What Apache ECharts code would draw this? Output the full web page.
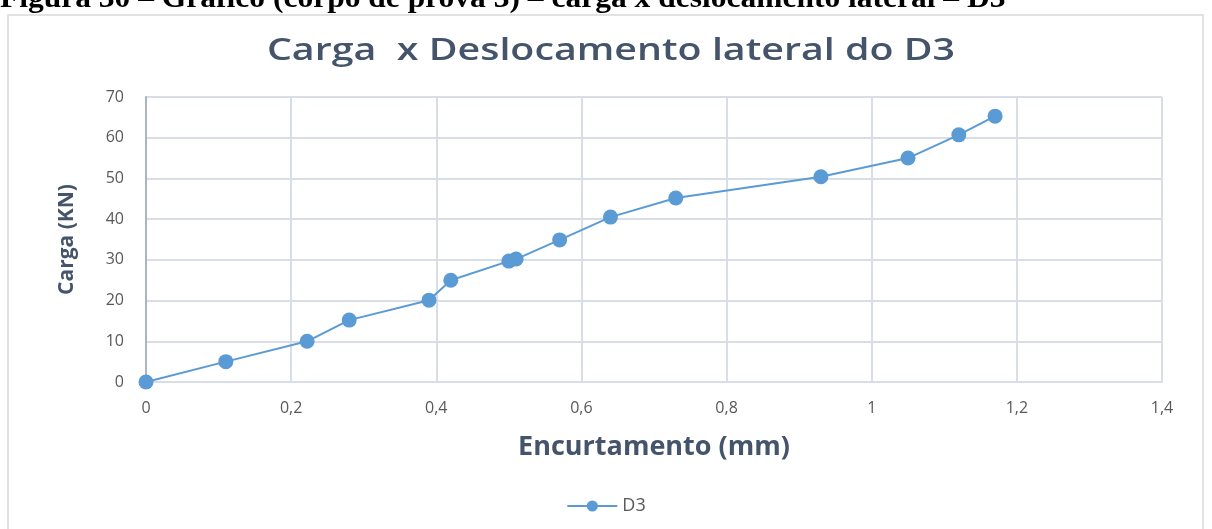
<!DOCTYPE html>
<html>
<head>
    <meta charset="utf-8">
    <title>Carga x Deslocamento lateral do D3</title>
    <script src="https://cdn.jsdelivr.net/npm/echarts@6/dist/echarts.min.js"></script>
    <style>
        html, body { margin: 0; padding: 0; background: #fff; }
        #chart { width: 1212px; height: 529px; }
    </style>
</head>
<body>
    <div id="chart"></div>
    <script>
        // data (Encurtamento mm, Carga kN)
        var encurtamento = [0, 0.11, 0.222, 0.28, 0.39, 0.42, 0.50, 0.51, 0.57, 0.64, 0.73, 0.93, 1.05, 1.12, 1.17];
        var carga = [0, 5, 10, 15.2, 20.1, 25, 29.7, 30.2, 34.9, 40.5, 45.2, 50.4, 55, 60.7, 65.3];
        var seriesName = 'D3';

        var chart = echarts.init(document.getElementById('chart'));

        var points = encurtamento.map(function (x, i) { return [x, carga[i]]; });

        var gridColor = '#d9dee6';
        var textColor = '#595959';
        var titleColor = '#44546a';

        var option = {
            backgroundColor: '#fff',
            animation: false,
            graphic: [
                {
                    // figure caption, cut off at the top edge of the picture
                    type: 'text',
                    x: 0,
                    y: 14,
                    scaleX: 1.05,
                    style: {
                        text: 'Figura 30 – Gráfico (corpo de prova 3) – carga x deslocamento lateral – D3',
                        font: 'bold 30px "Liberation Serif"',
                        fill: '#000',
                        verticalAlign: 'bottom'
                    }
                },
                {
                    type: 'rect',
                    shape: { x: 8, y: 15, width: 1195, height: 530 },
                    style: { fill: 'none', stroke: '#d9d9d9', lineWidth: 1.5 }
                },
                {
                    // chart title (stretched wide like the original)
                    type: 'text',
                    x: 611,
                    y: 51,
                    scaleX: 1.27,
                    style: {
                        text: 'Carga  x Deslocamento lateral do D3',
                        font: '600 31px "Open Sans"',
                        fill: titleColor,
                        align: 'center',
                        verticalAlign: 'middle'
                    }
                }
            ],
            legend: {
                bottom: 9,
                left: 'center',
                data: [seriesName],
                itemWidth: 50,
                itemHeight: 14,
                itemGap: 10,
                textStyle: { fontFamily: 'Open Sans', fontSize: 18, color: textColor }
            },
            grid: {
                left: 146,
                right: 50,
                top: 97,
                bottom: 147
            },
            xAxis: {
                type: 'value',
                min: 0,
                max: 1.4,
                interval: 0.2,
                name: 'Encurtamento (mm)',
                nameLocation: 'middle',
                nameGap: 52,
                nameTextStyle: { fontFamily: 'Open Sans', fontWeight: 'bold', fontSize: 27, color: titleColor },
                axisLine: { show: true, lineStyle: { color: gridColor, width: 2 } },
                axisTick: { show: false },
                axisLabel: {
                    margin: 18,
                    fontFamily: 'Open Sans',
                    fontSize: 16,
                    color: textColor,
                    formatter: function (v) { return String(Math.round(v * 10) / 10).replace('.', ','); }
                },
                splitLine: { show: true, lineStyle: { color: gridColor, width: 2 } }
            },
            yAxis: {
                type: 'value',
                min: 0,
                max: 70,
                interval: 10,
                name: 'Carga (KN)',
                nameLocation: 'middle',
                nameGap: 68,
                nameTextStyle: { fontFamily: 'Open Sans', fontWeight: 'bold', fontSize: 21, color: titleColor },
                axisLine: { show: true, lineStyle: { color: '#aab4c3', width: 2 } },
                axisTick: { show: false },
                axisLabel: { margin: 22, fontFamily: 'Open Sans', fontSize: 16, color: textColor },
                splitLine: { show: true, lineStyle: { color: gridColor, width: 2 } }
            },
            series: [
                {
                    name: seriesName,
                    type: 'line',
                    data: points,
                    symbol: 'circle',
                    symbolSize: 15,
                    itemStyle: { color: '#5b9bd5' },
                    lineStyle: { color: '#5b9bd5', width: 2 }
                }
            ]
        };

        chart.setOption(option);
    </script>
</body>
</html>
